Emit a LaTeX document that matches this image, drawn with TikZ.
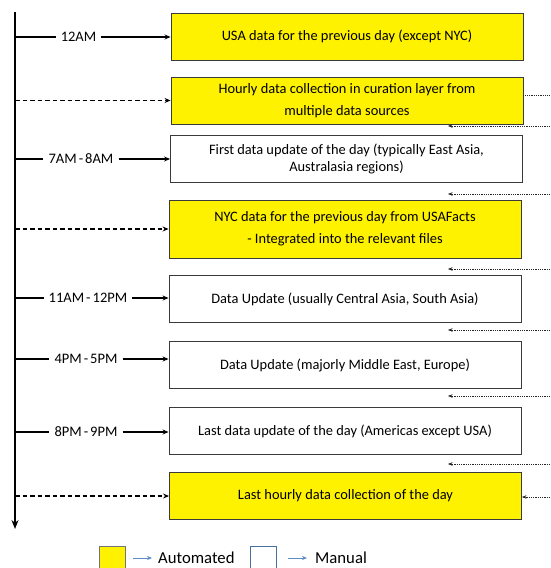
\documentclass[tikz,border=0pt]{standalone}
\usepackage{fontspec}
\setmainfont{Carlito}
\usetikzlibrary{arrows.meta}
\definecolor{legblue}{HTML}{5B8BC9}
\definecolor{boxline}{HTML}{3A3A3A}
\newcommand\timefont{\fontsize{14.5}{16}\selectfont\spaceskip=0.14em plus 0.05em\relax}
\begin{document}
\begin{tikzpicture}[x=1pt,y=-1pt,
  box/.style={draw=boxline, line width=0.9pt, minimum width=352pt, minimum height=47pt,
    align=center, inner sep=0pt, font=\fontsize{14.4}{22}\selectfont},
  autobox/.style={box, fill=yellow},
  manualbox/.style={box, fill=white},
  timelabel/.style={inner xsep=5pt, inner ysep=0pt, font=\timefont},
  tick/.style={line width=1.3pt},
  tickarrow/.style={line width=1.3pt, -{Stealth[length=6pt,width=5pt]}},
  dashedarrow/.style={line width=1.3pt, dash pattern=on 4.5pt off 3pt, -{Stealth[length=6pt,width=5pt]}},
  feedback/.style={line width=0.5pt, dash pattern=on 1pt off 0.8pt, black!85},
  feedbackarrow/.style={feedback, -{Stealth[length=4.5pt,width=3.5pt]}},
  legbox/.style={line width=0.9pt, minimum width=26pt, minimum height=24pt, inner sep=0pt},
  legarrow/.style={draw=legblue, line width=1pt, -{Stealth[length=5pt,width=4pt]}},
  legtext/.style={inner sep=0pt, font=\fontsize{16.7}{20}\selectfont},
]
\useasboundingbox (0,0) rectangle (550,568);

% time axis
\coordinate (axtop) at (15,12);
\coordinate (axbot) at (15,529);
\draw[line width=2.4pt, -{Stealth[length=9pt,width=7pt]}] (axtop) -- (axbot);

% steps of the day
\node[autobox] (b1) at (347,36.5) {USA data for the previous day (except NYC)};
\node[autobox] (b2) at (347,100.5) {Hourly data collection in curation layer from\\multiple data sources};
\node[manualbox, font=\fontsize{14.4}{17}\selectfont] (b3) at (346.5,158.5) {First data update of the day (typically East Asia,\\Australasia regions)};
\node[autobox, minimum height=58pt] (b4) at (345,229) {NYC data for the previous day from USAFacts\\- Integrated into the relevant files};
\node[manualbox] (b5) at (345,299) {Data Update (usually Central Asia, South Asia)};
\node[manualbox] (b6) at (345,365) {Data Update (majorly Middle East, Europe)};
\node[manualbox] (b7) at (345,431) {Last data update of the day (Americas except USA)};
\node[autobox] (b8) at (345.5,496) {Last hourly data collection of the day};

% timed steps: tick, time, arrow
\node[timelabel] (t1) at (78.5,37) {12AM};
\node[timelabel] (t3) at (81,159) {7AM - 8AM};
\node[timelabel] (t5) at (88,298) {11AM - 12PM};
\node[timelabel] (t6) at (86,359) {4PM - 5PM};
\node[timelabel] (t7) at (86,432) {8PM - 9PM};
\foreach \t/\b in {t1/b1,t3/b3,t5/b5,t6/b6,t7/b7}{
  \draw[tick] (axtop |- \t.west) -- (\t.west);
  \draw[tickarrow] (\t.east) -- (\t.east -| \b.west);
}

% hourly steps: dashed arrows
\draw[dashedarrow] (axtop |- b2.west) -- (b2.west);
\draw[dashedarrow] (axtop |- b4.west) -- (b4.west);
\draw[dashedarrow] (axtop |- b8.west) -- (b8.west);

% hourly loop on the right
\coordinate (r0) at (550,95);
\draw[feedback] (b2.east |- r0) -- (r0);
\foreach \y/\n in {126/1,194/2,269/3,330/4,396/5,464/6}{
  \coordinate (re\n) at (550,\y);
  \coordinate (rh\n) at (448,\y);
  \draw[feedbackarrow] (re\n) -- (rh\n);
}
\coordinate (r8) at (550,497);
\draw[feedbackarrow] (r8) -- (b8.east |- r8);

% legend
\node[legbox, draw=black!55, fill=yellow] (lauto) at (112,558) {};
\node[legtext, anchor=west] (tauto) at (158,558) {Automated};
\draw[legarrow, shorten <=8pt, shorten >=6pt] (lauto.east |- tauto.west) -- (tauto.west);
\node[legbox, draw=legblue!80!black, fill=white] (lman) at (263,558) {};
\node[legtext, anchor=west] (tman) at (315,558) {Manual};
\draw[legarrow, shorten <=12pt, shorten >=8pt] (lman.east |- tman.west) -- (tman.west);
\end{tikzpicture}
\end{document}
